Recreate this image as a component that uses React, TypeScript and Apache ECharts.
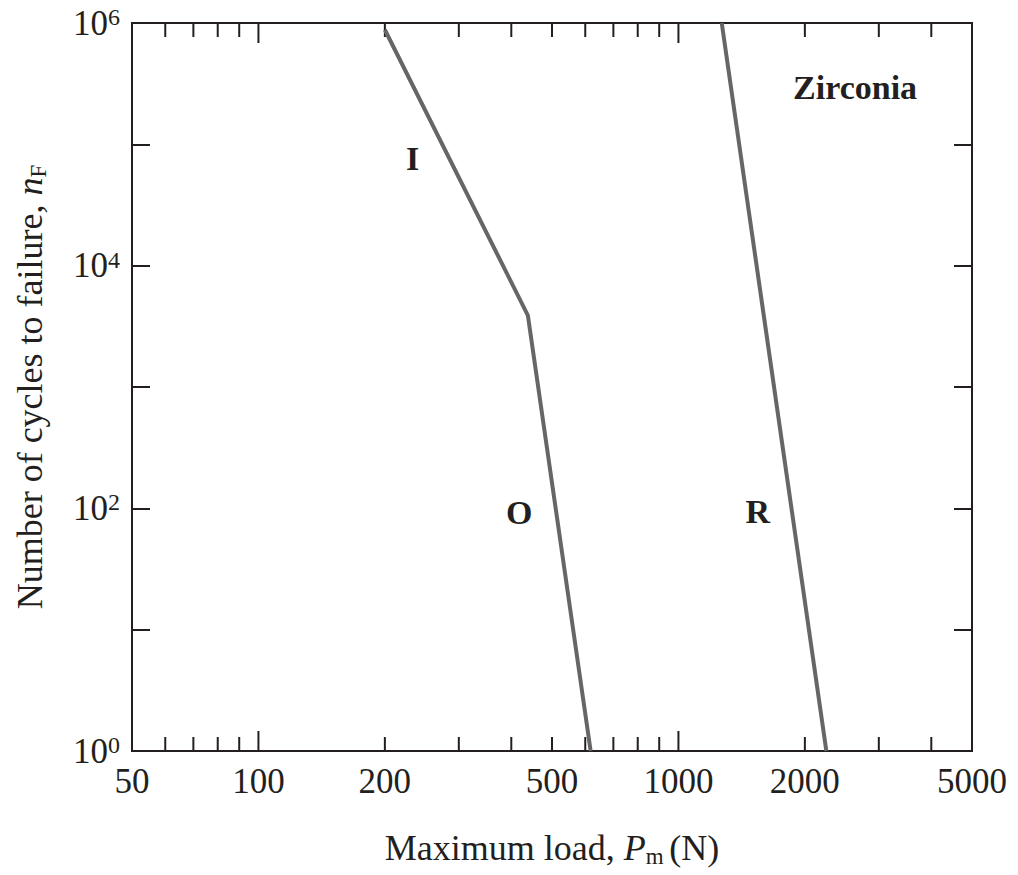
import React, { useEffect, useRef } from "react";
import * as echarts from "echarts";

// ---- data ----
const xRange = [50, 5000];
const yRange = [1, 1e6];
const xLabelValues = [50, 100, 200, 500, 1000, 2000, 5000];
const xMajorTicks = [100, 1000];
const xMinorTicks = [60, 70, 80, 90, 200, 300, 400, 500, 600, 700, 800, 900, 2000, 3000, 4000];
const curveIO = [
  [200, 8.8e5],
  [438, 3900],
  [618, 1],
];
const curveR = [
  [1268, 1e6],
  [2250, 1],
];
const annotationTexts = ["I", "O", "R", "Zirconia"];
const annotationX = [233, 418, 1545, 2634];
const annotationY = [7.7e4, 93, 95, 2.92e5];

const FONT = "'Liberation Serif', 'Times New Roman', serif";
const INK = "#231f20";
const LINE = "#666666";

export default function App() {
  const ref = useRef<HTMLDivElement>(null);
  useEffect(() => {
    if (!ref.current) return;
    const chart = echarts.init(ref.current, undefined, { renderer: "svg" });

    const tickSeries = (values: number[], len: number) => ({
      type: "custom",
      silent: true,
      z: 1,
      data: values.map((v) => [v, 1]),
      renderItem: (params: any, api: any) => {
        const cs = params.coordSys;
        const x = api.coord([api.value(0), 1])[0];
        const bottom = cs.y + cs.height;
        const top = cs.y;
        return {
          type: "group",
          children: [
            { type: "line", shape: { x1: x, y1: bottom, x2: x, y2: bottom - len }, style: { stroke: INK, lineWidth: 2 } },
            { type: "line", shape: { x1: x, y1: top, x2: x, y2: top + len }, style: { stroke: INK, lineWidth: 2 } },
          ],
        };
      },
    });

    const yAxisBase = {
      type: "log",
      logBase: 10,
      min: yRange[0],
      max: yRange[1],
      splitNumber: 6,
      axisLine: { show: false },
      splitLine: { show: false },
      axisTick: { show: true, inside: true, length: 18, lineStyle: { color: INK, width: 2 } },
    };

    const titleRich = {
      i: { fontFamily: FONT, fontSize: 36, fontStyle: "italic", color: INK, lineHeight: 40, verticalAlign: "middle" },
      s: { fontFamily: FONT, fontSize: 23, color: INK, lineHeight: 6, verticalAlign: "bottom" },
      g: { fontFamily: FONT, fontSize: 22, color: INK, lineHeight: 40, verticalAlign: "middle" },
      t: { fontFamily: FONT, fontSize: 36, color: INK, lineHeight: 40, verticalAlign: "middle" },
    };

    chart.setOption({
      animation: false,
      backgroundColor: "#ffffff",
      grid: {
        left: 132,
        right: 46,
        top: 23,
        bottom: 124,
        show: true,
        borderColor: INK,
        borderWidth: 2,
        containLabel: false,
        outerBoundsMode: "none",
      },
      xAxis: {
        type: "log",
        logBase: 10,
        min: xRange[0],
        max: xRange[1],
        axisLine: { show: false },
        axisTick: { show: false },
        axisLabel: { show: false },
        splitLine: { show: false },
        name: "{t|Maximum load, }{i|P}{s|m}{g| }{t|(N)}",
        nameLocation: "middle",
        nameGap: 77,
        nameTextStyle: {
          fontFamily: FONT,
          fontSize: 36,
          color: INK,
          lineHeight: 40,
          rich: titleRich,
        },
      },
      yAxis: [
        {
          ...yAxisBase,
          position: "left",
          name: "{t|Number of cycles to failure, }{i|n}{s|F}",
          nameLocation: "middle",
          nameRotate: 90,
          nameGap: 82,
          nameTextStyle: {
            fontFamily: FONT,
            fontSize: 36,
            color: INK,
            lineHeight: 40,
            rich: titleRich,
          },
          axisLabel: {
            margin: 12,
            formatter: (v: number) => {
              const e = Math.round(Math.log10(v));
              return e % 2 === 0 ? `{a|10}{b|${e}}` : "";
            },
            rich: {
              a: { fontFamily: FONT, fontSize: 35, color: INK, lineHeight: 36, verticalAlign: "middle" },
              b: { fontFamily: FONT, fontSize: 24, color: INK, lineHeight: 35, verticalAlign: "top" },
            },
          },
        },
        {
          ...yAxisBase,
          position: "right",
          axisLabel: { show: false },
        },
      ],
      series: [
        tickSeries(xMajorTicks, 20),
        tickSeries(xMinorTicks, 14),
        {
          type: "custom",
          silent: true,
          z: 1,
          data: xLabelValues.map((v) => [v, 1]),
          renderItem: (params: any, api: any) => {
            const cs = params.coordSys;
            const x = api.coord([api.value(0), 1])[0];
            return {
              type: "text",
              x,
              y: cs.y + cs.height + 30,
              style: {
                text: String(xLabelValues[params.dataIndex]),
                fontFamily: FONT,
                fontSize: 35,
                fill: INK,
                align: "center",
                verticalAlign: "middle",
              },
            };
          },
        },
        {
          type: "line",
          data: curveIO,
          showSymbol: false,
          symbol: "none",
          z: 3,
          lineStyle: { color: LINE, width: 4 },
        },
        {
          type: "line",
          data: curveR,
          showSymbol: false,
          symbol: "none",
          z: 3,
          lineStyle: { color: LINE, width: 4 },
        },
        {
          type: "custom",
          silent: true,
          z: 4,
          data: annotationX.map((x, i) => [x, annotationY[i]]),
          renderItem: (params: any, api: any) => {
            const p = api.coord([api.value(0), api.value(1)]);
            return {
              type: "text",
              x: p[0],
              y: p[1],
              style: {
                text: annotationTexts[params.dataIndex],
                fontFamily: FONT,
                fontSize: 34,
                fontWeight: "bold",
                fill: INK,
                align: "center",
                verticalAlign: "middle",
              },
            };
          },
        },
      ],
    });
    return () => chart.dispose();
  }, []);
  return (
    <div
      ref={ref}
      style={{ position: "fixed", left: 0, top: 0, width: 1018, height: 875, background: "#fff" }}
    />
  );
}
